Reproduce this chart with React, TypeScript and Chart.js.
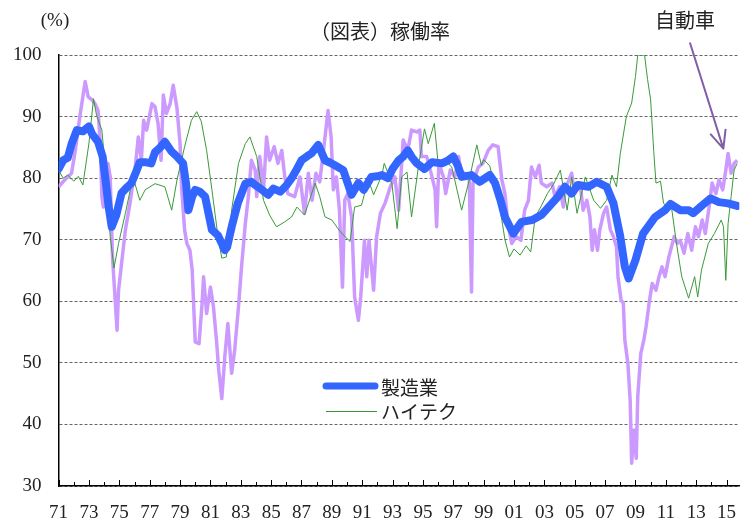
import React, { useEffect, useRef } from "react";
import { Chart, registerables } from "chart.js";

Chart.register(...registerables);

// ---- data (decimal year, operating rate %) ----
const MFG_T = [1971.0, 1971.3, 1971.6, 1971.85, 1972.2, 1972.6, 1973.0, 1973.2, 1973.6, 1973.9, 1974.1, 1974.3, 1974.5, 1974.8, 1975.15, 1975.5, 1975.8, 1976.1, 1976.35, 1976.7, 1977.1, 1977.35, 1977.7, 1978.0, 1978.45, 1978.8, 1979.2, 1979.4, 1979.55, 1979.8, 1980.0, 1980.3, 1980.65, 1980.9, 1981.1, 1981.5, 1981.95, 1982.1, 1982.4, 1982.8, 1983.3, 1983.7, 1984.0, 1984.4, 1984.8, 1985.15, 1985.6, 1986.0, 1986.35, 1986.7, 1987.0, 1987.4, 1987.65, 1988.1, 1988.3, 1988.55, 1988.9, 1989.2, 1989.75, 1990.0, 1990.3, 1990.75, 1991.1, 1991.6, 1992.0, 1992.3, 1992.7, 1993.0, 1993.4, 1993.7, 1994.0, 1994.3, 1994.6, 1995.1, 1995.6, 1996.25, 1996.6, 1997.0, 1997.3, 1997.55, 1998.2, 1998.75, 1999.1, 1999.4, 1999.75, 2000.1, 2000.4, 2000.95, 2001.5, 2002.2, 2002.8, 2003.5, 2003.9, 2004.35, 2004.8, 2005.2, 2005.9, 2006.45, 2007.1, 2007.55, 2008.0, 2008.3, 2008.55, 2009.0, 2009.5, 2010.3, 2010.95, 2011.3, 2011.95, 2012.5, 2012.8, 2013.4, 2013.95, 2014.5, 2015.1, 2015.7];
const MFG_V = [81.5, 82.9, 83.3, 85.5, 87.8, 87.6, 88.4, 87.2, 85.9, 83.5, 79.5, 75.3, 72.1, 74.0, 77.6, 78.5, 79.2, 81.0, 82.6, 82.6, 82.4, 84.2, 85.0, 85.9, 84.3, 83.5, 82.4, 79.0, 74.8, 77.0, 78.1, 77.8, 77.0, 74.0, 71.6, 70.7, 68.3, 68.8, 72.1, 75.9, 79.1, 79.4, 78.8, 78.1, 77.3, 78.3, 77.8, 78.8, 80.0, 81.5, 82.9, 83.6, 84.0, 85.4, 84.3, 82.9, 82.5, 82.1, 81.3, 79.5, 77.3, 79.2, 78.1, 80.2, 80.3, 80.5, 80.0, 81.5, 82.9, 83.5, 84.5, 83.3, 82.4, 81.5, 82.6, 82.4, 82.8, 83.5, 82.0, 80.2, 80.5, 79.4, 80.0, 80.5, 79.2, 76.5, 73.7, 71.0, 72.9, 73.2, 74.0, 75.9, 77.0, 78.6, 77.5, 78.9, 78.6, 79.4, 78.6, 75.9, 70.5, 65.6, 63.7, 66.7, 71.0, 73.7, 74.8, 75.8, 74.8, 74.8, 74.3, 75.6, 76.7, 76.1, 75.9, 75.5];

const HT_T = [1971.0, 1971.3, 1971.6, 1972.0, 1972.3, 1972.6, 1973.0, 1973.3, 1973.5, 1973.85, 1974.05, 1974.4, 1974.65, 1974.95, 1975.4, 1975.9, 1976.35, 1976.7, 1977.35, 1978.0, 1978.45, 1978.8, 1979.3, 1979.75, 1980.1, 1980.4, 1980.75, 1981.1, 1981.5, 1981.75, 1982.05, 1982.4, 1982.85, 1983.3, 1983.6, 1984.05, 1984.5, 1984.9, 1985.35, 1985.9, 1986.35, 1986.7, 1987.2, 1987.9, 1988.2, 1988.55, 1989.0, 1989.55, 1990.2, 1990.5, 1990.95, 1991.4, 1991.75, 1992.3, 1992.45, 1992.95, 1993.3, 1993.6, 1993.95, 1994.25, 1994.7, 1995.1, 1995.35, 1995.75, 1996.0, 1996.45, 1996.9, 1997.55, 1998.0, 1998.55, 1998.85, 1999.0, 1999.4, 1999.8, 2000.1, 2000.4, 2000.7, 2001.0, 2001.4, 2001.8, 2002.1, 2002.4, 2002.8, 2003.2, 2003.6, 2004.05, 2004.5, 2004.8, 2005.15, 2005.7, 2006.25, 2006.7, 2007.1, 2007.45, 2007.75, 2008.0, 2008.4, 2008.75, 2009.0, 2009.15, 2009.6, 2009.8, 2010.0, 2010.2, 2010.35, 2010.65, 2010.85, 2011.4, 2011.7, 2012.05, 2012.5, 2012.9, 2013.1, 2013.35, 2013.8, 2014.2, 2014.65, 2014.8, 2014.95, 2015.1, 2015.3, 2015.5, 2015.7];
const HT_V = [81.3, 80.0, 80.5, 79.5, 80.3, 78.9, 85.7, 92.9, 90.2, 87.8, 82.4, 70.5, 65.4, 69.4, 74.3, 80.2, 76.4, 78.1, 79.1, 78.6, 74.8, 79.7, 85.1, 89.4, 90.8, 89.2, 84.5, 78.1, 70.5, 67.0, 67.2, 74.8, 82.4, 85.6, 86.7, 83.5, 76.4, 74.0, 72.1, 72.9, 73.7, 75.3, 74.0, 79.2, 77.0, 73.7, 73.2, 71.3, 69.7, 75.3, 75.6, 79.7, 77.3, 80.5, 82.4, 79.2, 71.8, 80.2, 81.0, 73.7, 81.8, 88.0, 85.6, 88.9, 82.4, 82.9, 81.8, 74.8, 79.2, 85.4, 82.1, 83.0, 82.0, 78.0, 74.8, 70.0, 67.2, 68.5, 67.5, 69.0, 68.0, 73.7, 75.5, 77.5, 79.0, 81.3, 74.8, 80.2, 74.3, 80.2, 76.4, 75.1, 76.4, 80.5, 78.6, 84.0, 90.0, 92.2, 96.5, 100.0, 100.0, 96.0, 92.7, 84.5, 79.2, 79.5, 75.9, 74.8, 69.4, 64.0, 60.5, 64.0, 60.7, 65.1, 69.4, 71.0, 73.2, 72.1, 63.4, 72.6, 77.0, 81.3, 82.4];

const AUTO_T = [1971.0, 1971.4, 1971.85, 1972.1, 1972.4, 1972.75, 1972.95, 1973.2, 1973.4, 1973.6, 1973.75, 1973.85, 1973.95, 1974.25, 1974.4, 1974.55, 1974.7, 1974.85, 1974.95, 1975.15, 1975.4, 1975.7, 1976.05, 1976.25, 1976.45, 1976.6, 1976.8, 1977.15, 1977.35, 1977.55, 1977.75, 1977.9, 1978.1, 1978.35, 1978.55, 1978.8, 1979.0, 1979.1, 1979.3, 1979.45, 1979.65, 1979.8, 1980.0, 1980.25, 1980.45, 1980.55, 1980.75, 1981.0, 1981.2, 1981.4, 1981.55, 1981.75, 1981.95, 1982.15, 1982.4, 1982.6, 1982.85, 1983.05, 1983.3, 1983.5, 1983.7, 1983.95, 1984.05, 1984.25, 1984.5, 1984.7, 1984.9, 1985.2, 1985.45, 1985.7, 1985.9, 1986.1, 1986.55, 1986.9, 1987.2, 1987.45, 1987.7, 1987.95, 1988.2, 1988.45, 1988.75, 1988.95, 1989.1, 1989.3, 1989.5, 1989.7, 1989.85, 1990.05, 1990.3, 1990.5, 1990.75, 1990.9, 1991.15, 1991.3, 1991.45, 1991.75, 1991.95, 1992.2, 1992.5, 1992.85, 1993.15, 1993.4, 1993.7, 1994.0, 1994.25, 1994.6, 1994.8, 1994.9, 1995.25, 1995.6, 1995.8, 1995.9, 1996.05, 1996.35, 1996.5, 1996.8, 1997.1, 1997.35, 1997.55, 1997.75, 1998.05, 1998.2, 1998.3, 1998.65, 1998.95, 1999.3, 1999.6, 1999.95, 2000.2, 2000.4, 2000.6, 2000.85, 2001.15, 2001.45, 2001.7, 2001.95, 2002.15, 2002.4, 2002.65, 2002.8, 2003.15, 2003.5, 2003.7, 2004.0, 2004.25, 2004.35, 2004.8, 2005.0, 2005.35, 2005.55, 2005.8, 2006.0, 2006.15, 2006.3, 2006.5, 2006.65, 2006.9, 2007.1, 2007.35, 2007.55, 2007.75, 2007.85, 2008.05, 2008.2, 2008.3, 2008.5, 2008.65, 2008.75, 2008.9, 2009.05, 2009.15, 2009.35, 2009.55, 2009.7, 2009.9, 2010.1, 2010.35, 2010.55, 2010.75, 2010.95, 2011.2, 2011.55, 2011.75, 2011.95, 2012.2, 2012.45, 2012.7, 2012.95, 2013.15, 2013.4, 2013.6, 2013.85, 2014.05, 2014.3, 2014.5, 2014.75, 2014.95, 2015.1, 2015.3, 2015.5, 2015.7];
const AUTO_V = [78.6, 79.7, 80.8, 84.5, 90.0, 95.7, 93.2, 92.7, 92.1, 91.0, 85.6, 77.0, 75.3, 82.4, 80.2, 67.2, 61.3, 55.3, 61.8, 66.2, 71.6, 75.9, 81.8, 86.7, 82.9, 89.4, 87.8, 92.1, 91.6, 88.9, 82.9, 93.5, 90.5, 92.1, 95.1, 91.3, 85.6, 78.6, 71.6, 69.4, 68.3, 65.1, 53.4, 53.1, 59.6, 64.0, 58.0, 62.3, 59.1, 53.7, 48.8, 44.2, 51.0, 56.4, 48.3, 52.1, 59.1, 65.6, 72.6, 77.0, 82.9, 81.3, 77.0, 83.5, 78.1, 86.7, 82.9, 85.1, 82.4, 84.5, 80.2, 77.5, 77.0, 80.2, 74.3, 80.8, 76.4, 80.8, 79.4, 84.5, 91.0, 86.7, 78.1, 80.2, 74.8, 62.3, 76.4, 77.5, 73.7, 60.7, 56.9, 60.7, 69.9, 64.0, 69.9, 61.8, 70.5, 74.3, 75.9, 78.6, 80.2, 74.8, 86.2, 84.5, 87.8, 87.5, 87.8, 83.5, 83.5, 80.2, 78.1, 72.1, 82.4, 80.2, 77.5, 81.3, 80.2, 83.5, 80.2, 80.8, 80.2, 61.5, 79.2, 81.8, 82.4, 84.5, 85.4, 85.1, 79.7, 77.5, 72.6, 69.4, 70.5, 69.9, 74.8, 76.4, 81.8, 80.2, 82.1, 79.2, 78.6, 79.2, 77.0, 78.6, 75.3, 78.1, 80.8, 77.5, 79.2, 74.8, 76.4, 73.7, 68.3, 71.6, 68.3, 71.6, 74.3, 75.3, 71.6, 70.5, 68.8, 64.0, 60.2, 59.7, 53.7, 49.9, 44.0, 33.7, 39.1, 34.5, 44.5, 51.5, 53.7, 55.9, 59.7, 62.9, 61.8, 64.0, 65.6, 64.0, 67.2, 70.5, 69.4, 69.9, 67.8, 71.0, 68.3, 72.1, 70.5, 73.2, 71.0, 75.3, 79.2, 77.5, 79.7, 78.1, 81.3, 84.0, 80.8, 82.4, 82.9];

const LABEL_YEARS = [1971, 1973, 1975, 1977, 1979, 1981, 1983, 1985, 1987, 1989, 1991, 1993, 1995, 1997, 1999, 2001, 2003, 2005, 2007, 2009, 2011, 2013, 2015];
const YEAR_LABELS = ["71", "73", "75", "77", "79", "81", "83", "85", "87", "89", "91", "93", "95", "97", "99", "01", "03", "05", "07", "09", "11", "13", "15"];
const X_MIN = 1971;
const X_MAX = 2015.84;
const Y_MIN = 30;
const Y_MAX = 100;

const SERIES_NAMES = ["製造業", "ハイテク", "自動車"];
const TITLE = "（図表）稼働率";
const UNIT = "(%)";
// arrow pointing at the automobile line (data coordinates: [year, value])
const ARROW_FROM = [2012.6, 101.9];
const ARROW_TO = [2014.79, 84.8];

const BLUE = "#3366ff";
const GREEN = "#3a9a3a";
const PURPLE = "#cc99ff";
const ARROW = "#7f5fa6";
const SERIF = "'Liberation Serif', 'Times New Roman', serif";
const JP = "'Noto Sans CJK JP', sans-serif";

const toPts = (t: number[], v: number[]) => t.map((x, i) => ({ x, y: v[i] }));

const overlay = {
  id: "overlay",
  afterDraw(chart: any) {
    const { ctx, chartArea, scales } = chart;
    const xs = scales.x;
    const ys = scales.y;
    ctx.save();
    // inward x ticks
    ctx.strokeStyle = "#000";
    ctx.lineWidth = 1;
    for (let yr = 1971; yr <= 2015; yr++) {
      const px = Math.round(xs.getPixelForValue(yr)) + 0.5;
      const len = LABEL_YEARS.includes(yr) ? 6 : 4;
      ctx.beginPath();
      ctx.moveTo(px, chartArea.bottom);
      ctx.lineTo(px, chartArea.bottom - len);
      ctx.stroke();
    }
    // texts
    ctx.fillStyle = "#222";
    ctx.textBaseline = "middle";
    ctx.textAlign = "center";
    ctx.font = `19px ${SERIF}`;
    ctx.fillText(UNIT, 55, 21);
    ctx.font = `20px ${JP}`;
    ctx.fillText(TITLE, 380, 31);
    ctx.fillText(SERIES_NAMES[2], 685, 20);

    // legend
    ctx.lineCap = "round";
    ctx.strokeStyle = BLUE;
    ctx.lineWidth = 7;
    ctx.beginPath();
    ctx.moveTo(326, 386);
    ctx.lineTo(375, 386);
    ctx.stroke();
    ctx.lineCap = "butt";
    ctx.strokeStyle = GREEN;
    ctx.lineWidth = 1;
    ctx.beginPath();
    ctx.moveTo(326, 411.5);
    ctx.lineTo(377, 411.5);
    ctx.stroke();
    ctx.textAlign = "left";
    ctx.font = `19px ${JP}`;
    ctx.fillStyle = "#222";
    ctx.fillText(SERIES_NAMES[0], 381, 388);
    ctx.fillText(SERIES_NAMES[1], 381, 412);

    // arrow
    const x1 = xs.getPixelForValue(ARROW_FROM[0]);
    const y1 = ys.getPixelForValue(ARROW_FROM[1]);
    const x2 = xs.getPixelForValue(ARROW_TO[0]);
    const y2 = ys.getPixelForValue(ARROW_TO[1]);
    ctx.strokeStyle = ARROW;
    ctx.lineWidth = 2;
    ctx.lineCap = "round";
    ctx.beginPath();
    ctx.moveTo(x1, y1);
    ctx.lineTo(x2, y2);
    const ang = Math.atan2(y2 - y1, x2 - x1);
    const hl = 19;
    const spread = 0.42;
    ctx.moveTo(x2, y2);
    ctx.lineTo(x2 - hl * Math.cos(ang - spread), y2 - hl * Math.sin(ang - spread));
    ctx.moveTo(x2, y2);
    ctx.lineTo(x2 - hl * Math.cos(ang + spread), y2 - hl * Math.sin(ang + spread));
    ctx.stroke();
    ctx.restore();
  },
};

export default function App() {
  const ref = useRef<HTMLCanvasElement>(null);
  useEffect(() => {
    document.body.style.margin = "0";
    const chart = new Chart(ref.current as HTMLCanvasElement, {
      type: "line",
      data: {
        datasets: [
          {
            label: SERIES_NAMES[0],
            data: toPts(MFG_T, MFG_V),
            borderColor: BLUE,
            borderWidth: 8,
            borderCapStyle: "round",
            borderJoinStyle: "round",
            pointRadius: 0,
            tension: 0,
          },
          {
            label: SERIES_NAMES[1],
            data: toPts(HT_T, HT_V),
            borderColor: GREEN,
            borderWidth: 1,
            pointRadius: 0,
            tension: 0,
          },
          {
            label: SERIES_NAMES[2],
            data: toPts(AUTO_T, AUTO_V),
            borderColor: PURPLE,
            borderWidth: 3.5,
            borderJoinStyle: "round",
            pointRadius: 0,
            tension: 0,
          },
        ],
      },
      options: {
        responsive: false,
        animation: false,
        devicePixelRatio: 1,
        layout: { padding: { left: 0, top: 55, right: 15.7, bottom: 0 } },
        plugins: { legend: { display: false }, tooltip: { enabled: false }, title: { display: false } },
        scales: {
          x: {
            type: "linear",
            min: X_MIN,
            max: X_MAX,
            afterFit: (s: any) => {
              s.height = 36;
            },
            grid: { drawOnChartArea: false, drawTicks: false },
            border: { display: true, color: "#000", width: 1.5 },
            ticks: {
              stepSize: 1,
              autoSkip: false,
              maxRotation: 0,
              includeBounds: false,
              padding: 15.5,
              color: "#222",
              font: { family: SERIF, size: 19 },
              callback: (v: any) => {
                const i = LABEL_YEARS.indexOf(Number(v));
                return i >= 0 ? YEAR_LABELS[i] : "";
              },
            },
          },
          y: {
            min: Y_MIN,
            max: Y_MAX,
            afterFit: (s: any) => {
              s.width = 58.6;
            },
            grid: { color: "#666", lineWidth: 1, drawTicks: false },
            border: { display: true, color: "#000", width: 1.5, dash: [3, 2] },
            ticks: {
              stepSize: 10,
              padding: 17,
              color: "#222",
              font: { family: SERIF, size: 19 },
            },
          },
        },
      },
      plugins: [overlay],
    });
    return () => chart.destroy();
  }, []);
  return (
    <div style={{ width: 755, height: 522 }}>
      <canvas ref={ref} width={755} height={522} style={{ display: "block" }} />
    </div>
  );
}
